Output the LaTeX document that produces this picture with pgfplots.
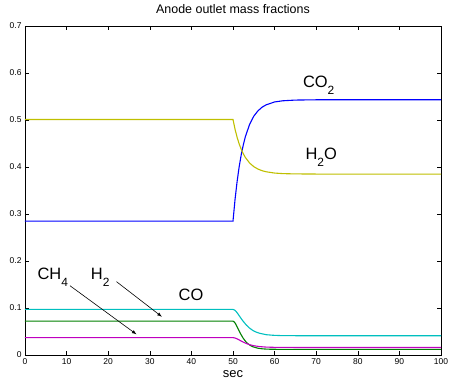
\documentclass[border=0pt]{standalone}
\usepackage{fontspec}
\setmainfont{Liberation Sans}
\usepackage{pgfplots}
\pgfplotsset{compat=1.18}
\definecolor{mblue}{rgb}{0,0,1}
\definecolor{myellow}{rgb}{0.75,0.75,0}
\definecolor{mcyan}{rgb}{0,0.75,0.75}
\definecolor{mgreen}{rgb}{0,0.5,0}
\definecolor{mmag}{rgb}{0.75,0,0.75}
\newcommand{\sub}[1]{\raisebox{-0.45em}{\fontsize{12}{12}\selectfont #1}}
\begin{document}
\begin{tikzpicture}
\begin{axis}[
  name=ax,
  scale only axis,
  width=416bp, height=329bp,
  xmin=0, xmax=100, ymin=0, ymax=0.7,
  xtick={0,10,...,100},
  ytick={0,0.1,...,0.7},
  yticklabels={0,0.1,0.2,0.3,0.4,0.5,0.6,0.7},
  tick align=inside,
  major tick length=4bp,
  xtick pos=both, ytick pos=both,
  xticklabel pos=lower, yticklabel pos=left,
  ticklabel style={font=\fontsize{8.5}{8.5}\selectfont},
  /pgf/number format/assume math mode=true,
  axis line style={black, line width=0.7pt},
  every tick/.style={black, line width=0.5pt},
  title={Anode outlet mass fractions},
  title style={font=\fontsize{12.5}{12.5}\selectfont, at={(axis description cs:0.5,1)}, anchor=south, yshift=3bp},
  xlabel={sec},
  xlabel style={font=\fontsize{13}{13}\selectfont, at={(axis description cs:0.5,0)}, anchor=north, yshift=-12bp},
  every axis plot/.style={line width=1.1pt, no markers},
  clip=true,
]
% CO2
\addplot[mblue] coordinates {(0,0.285) (50,0.285) (50.5,0.3317) (51,0.3701) (51.5,0.4014) (52,0.4272) (52.5,0.4481) (53,0.4653) (54,0.4909) (55,0.5082) (56,0.5195) (57,0.5273) (58,0.5324) (60,0.5384) (62,0.5409) (65,0.5424) (70,0.543) (100,0.543)};
% H2O
\addplot[myellow] coordinates {(0,0.501) (50,0.501) (50.5,0.4800) (51,0.4627) (51.5,0.4487) (52,0.4371) (52.5,0.4277) (53,0.4199) (54,0.4084) (55,0.4007) (56,0.3956) (57,0.3921) (58,0.3898) (60,0.3871) (62,0.3859) (65,0.3853) (70,0.385) (100,0.385)};
% CO
\addplot[mcyan] coordinates {(0,0.097) (50,0.097) (50.4,0.0955) (50.8,0.0920) (51.2,0.0873) (51.6,0.0822) (52.0,0.0771) (52.4,0.0723) (53.2,0.0637) (54.0,0.0571) (54.8,0.0521) (55.6,0.0486) (56.4,0.0462) (58.0,0.0432) (59.6,0.0420) (61.2,0.0414) (62.8,0.0412) (66,0.041) (100,0.041)};
% H2
\addplot[mgreen] coordinates {(0,0.072) (50,0.072) (50.3,0.0704) (50.6,0.0666) (50.9,0.0616) (51.2,0.0562) (51.5,0.0507) (51.8,0.0455) (52.4,0.0364) (53.0,0.0292) (53.6,0.0239) (54.2,0.0201) (54.8,0.0175) (56.0,0.0144) (57.2,0.0130) (58.4,0.0124) (59.6,0.0122) (62,0.012) (100,0.012)};
% CH4
\addplot[mmag] coordinates {(0,0.037) (50,0.037) (50.4,0.0364) (50.8,0.0351) (51.2,0.0334) (51.6,0.0315) (52.0,0.0296) (52.4,0.0277) (53.2,0.0245) (54.0,0.0220) (54.8,0.0201) (55.6,0.0189) (56.4,0.0179) (58.0,0.0168) (59.6,0.0164) (61.2,0.0162) (66,0.016) (100,0.016)};
% labels
\node[anchor=base west, inner sep=0pt, font=\fontsize{16.5}{16.5}\selectfont] at (axis cs:66.8,0.5696) {CO\sub{2}};
\node[anchor=base west, inner sep=0pt, font=\fontsize{16.5}{16.5}\selectfont] at (axis cs:67.4,0.417) {H\sub{2}O};
\node[anchor=base west, inner sep=0pt, font=\fontsize{16.5}{16.5}\selectfont] at (axis cs:36.9,0.1155) {CO};
\node[anchor=base west, inner sep=0pt, font=\fontsize{16.5}{16.5}\selectfont] at (axis cs:2.96,0.161) {CH\sub{4}};
\node[anchor=base west, inner sep=0pt, font=\fontsize{16.5}{16.5}\selectfont] at (axis cs:15.8,0.161) {H\sub{2}};
\draw[-latex, line width=0.6pt] (axis cs:22.0,0.156) -- (axis cs:32.9,0.0815);
\draw[-latex, line width=0.6pt] (axis cs:10.8,0.1475) -- (axis cs:26.8,0.044);
\end{axis}
\pgfresetboundingbox
\path[use as bounding box] ([xshift=-25bp,yshift=-30bp]ax.south west) rectangle ([xshift=8bp,yshift=26bp]ax.north east);
\end{tikzpicture}
\end{document}
